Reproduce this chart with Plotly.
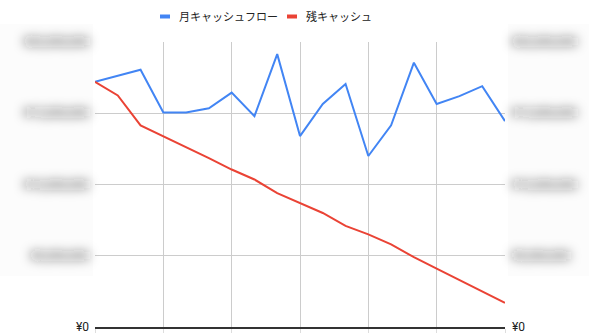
import plotly.graph_objects as go

# Month index (19 months) and the two series, in yen
months = list(range(19))
monthly_flow = [17200000, 17620000, 18050000, 15050000, 15050000, 15350000, 16450000,
                14800000, 19150000, 13400000, 15650000, 17050000, 12000000, 14150000,
                18550000, 15650000, 16200000, 16900000, 14450000]
remaining_cash = [17200000, 16250000, 14150000, 13400000, 12600000, 11850000, 11050000,
                  10350000, 9400000, 8700000, 8000000, 7100000, 6500000, 5800000,
                  4900000, 4100000, 3300000, 2450000, 1700000]

series_names = ["月キャッシュフロー", "残キャッシュ"]
series_colors = ["#4285F4", "#EA4335"]

y_tickvals = [0, 5000000, 10000000, 15000000, 20000000]
y_ticktext = ["¥0", "¥5,000,000", "¥10,000,000", "¥15,000,000", "¥20,000,000"]

W, H = 591, 333
L, R, T, B = 95, 86, 42, 6
plot_w = W - L - R
plot_h = H - T - B

def px_to_paper_x(px):
    return (px - L) / plot_w

def px_to_paper_y(py):
    return (H - B - py) / plot_h

fig = go.Figure()
fig.add_trace(go.Scatter(x=months, y=monthly_flow, mode="lines",
                         line=dict(color=series_colors[0], width=2),
                         name=series_names[0], yaxis="y"))
fig.add_trace(go.Scatter(x=months, y=remaining_cash, mode="lines",
                         line=dict(color=series_colors[1], width=2),
                         name=series_names[1], yaxis="y2"))

axis_font = dict(family="Roboto, Arial, sans-serif", size=12, color="#222222")

fig.update_layout(
    width=W, height=H,
    margin=dict(l=L, r=R, t=T, b=B, pad=0, autoexpand=False),
    paper_bgcolor="white", plot_bgcolor="white",
    showlegend=False,
    xaxis=dict(range=[0, 18], tick0=0, dtick=3, showgrid=True,
               gridcolor="#cccccc", gridwidth=1, zeroline=False,
               showline=True, linecolor="#333333", linewidth=1.5,
               ticks="outside", ticklen=4, tickcolor="#dddddd",
               showticklabels=False, fixedrange=True, automargin=False),
    yaxis=dict(range=[0, 20000000], tickvals=y_tickvals, ticktext=y_ticktext,
               showgrid=True, gridcolor="#cccccc", gridwidth=1,
               zeroline=False, showline=False, ticks="",
               ticklabelstandoff=5, tickfont=axis_font, automargin=False,
               ticklabeloverflow="allow"),
    yaxis2=dict(range=[0, 20000000], tickvals=y_tickvals, ticktext=y_ticktext,
                overlaying="y", side="right", showgrid=False,
                zeroline=False, showline=False, ticks="",
                ticklabelstandoff=6, tickfont=axis_font, automargin=False,
                ticklabeloverflow="allow"),
)

# Faint panels behind the side labels
for x0, x1 in [(0, 93), (508, 589)]:
    fig.add_shape(type="rect", xref="paper", yref="paper", layer="below",
                  x0=px_to_paper_x(x0), x1=px_to_paper_x(x1),
                  y0=px_to_paper_y(276), y1=px_to_paper_y(24),
                  fillcolor="rgba(0,0,0,0.01)", line=dict(width=0))

# Legend drawn as swatches plus labels above the plot
legend_font = dict(family="Noto Sans CJK JP, sans-serif", size=11, color="#222222")
legend_items = [(160, 177, 0), (287, 304, 1)]
for sx, tx, i in legend_items:
    fig.add_shape(type="rect", xref="paper", yref="paper",
                  x0=px_to_paper_x(sx), x1=px_to_paper_x(sx + 10),
                  y0=px_to_paper_y(18.5), y1=px_to_paper_y(14.5),
                  fillcolor=series_colors[i], line=dict(width=0))
    fig.add_annotation(xref="paper", yref="paper",
                       x=px_to_paper_x(tx), y=px_to_paper_y(16.5),
                       xanchor="left", yanchor="middle", showarrow=False,
                       text=series_names[i], font=legend_font)

blur_js = """
var gd = document.getElementById('{plot_id}');
function softenTicks(){
  var ns = 'http://www.w3.org/2000/svg';
  if (!document.getElementById('tickblur')) {
    var defs = gd.querySelector('svg.main-svg defs');
    var f = document.createElementNS(ns, 'filter');
    f.setAttribute('id', 'tickblur');
    f.setAttribute('x', '-40%'); f.setAttribute('y', '-200%');
    f.setAttribute('width', '180%'); f.setAttribute('height', '500%');
    var g = document.createElementNS(ns, 'feGaussianBlur');
    g.setAttribute('stdDeviation', '5.5');
    f.appendChild(g); defs.appendChild(f);
  }
  gd.querySelectorAll('.ytick text, .y2tick text').forEach(function(t){
    if (t.textContent.length > 2) { t.setAttribute('filter', 'url(#tickblur)'); }
  });
}
softenTicks();
gd.on('plotly_afterplot', softenTicks);
"""

fig.write_html("out.html", post_script=blur_js, config={"displayModeBar": False})
